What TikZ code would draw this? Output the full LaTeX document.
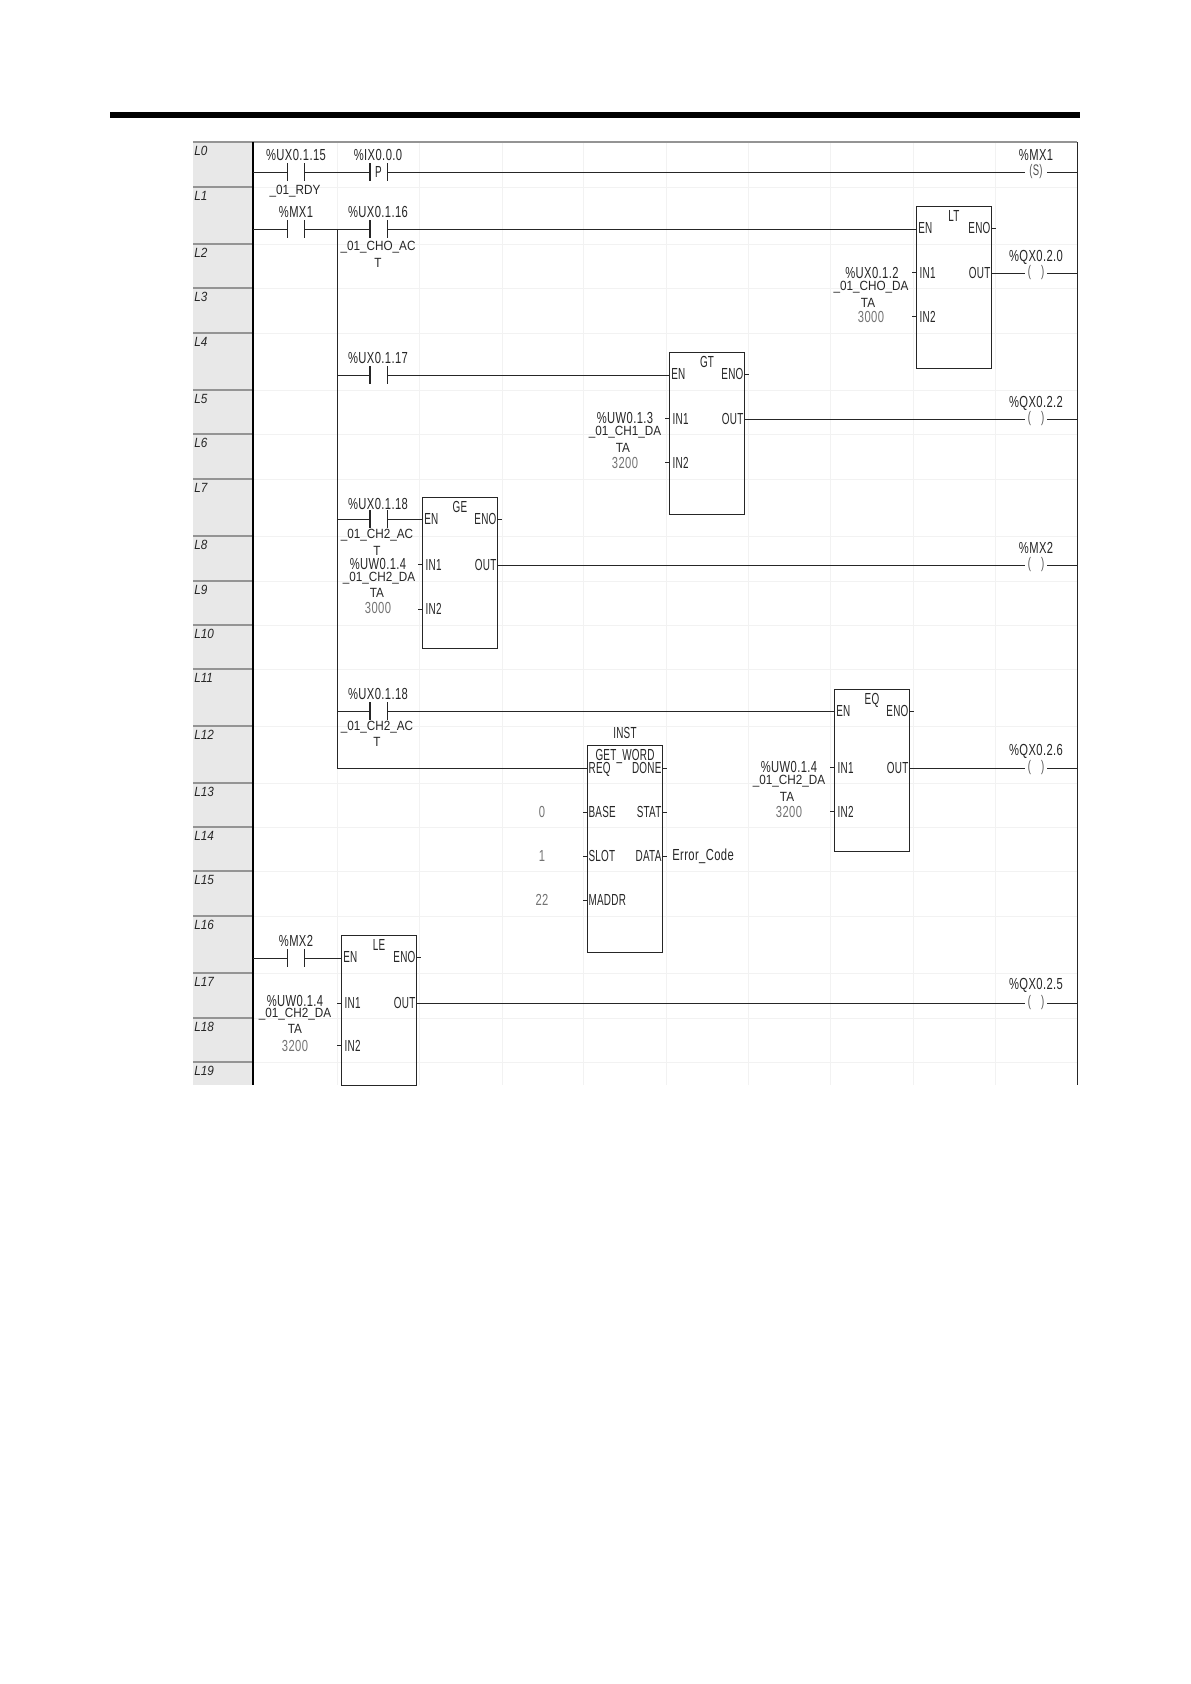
\documentclass[tikz,border=0pt]{standalone}
\usepackage{fontspec}
\newfontfamily\ladfont[FakeStretch=0.7,LetterSpace=2.5]{Liberation Sans}
\newfontfamily\pinfont[FakeStretch=0.62,LetterSpace=1.5]{Liberation Sans}
\newfontfamily\tagfont[FakeStretch=0.88]{Liberation Sans}
\usetikzlibrary{positioning,calc}
\definecolor{railgrey}{gray}{0.58}
\definecolor{colgrey}{gray}{0.91}
\definecolor{gridgrey}{gray}{0.95}
\definecolor{inkdark}{gray}{0.15}
\definecolor{constgrey}{gray}{0.45}
\tikzset{
  wire/.style={inkdark,line width=0.7pt},
  bar/.style={inkdark,line width=0.8pt},
  gridln/.style={gridgrey,line width=0.6pt},
  contact/.style={minimum width=12.4pt,minimum height=12.4pt,inner sep=0pt,
                  font=\pinfont\fontsize{12}{12}\selectfont,text=inkdark},
  coil/.style={minimum width=16.5pt,inner sep=0pt,text=inkdark!80,
               font=\pinfont\fontsize{11.5}{12}\selectfont},
  opd/.style={font=\ladfont\fontsize{12}{13}\selectfont,inner sep=0pt,text=inkdark},
  tag/.style={font=\tagfont\fontsize{10}{10}\selectfont,inner sep=0pt,text=inkdark},
  konst/.style={font=\ladfont\fontsize{12}{13}\selectfont,inner sep=0pt,text=constgrey},
  fblock/.style={draw=inkdark,line width=0.8pt,anchor=north west,minimum width=56.2pt,
                 inner sep=0pt,fill=none},
  pin/.style={font=\pinfont\fontsize{12}{13}\selectfont,inner sep=0pt,text=inkdark,
              text height=8.6pt,text depth=0pt},
  rowlab/.style={font=\tagfont\itshape\fontsize{10}{10}\selectfont,inner sep=0pt,
                 text=inkdark,anchor=west},
}
\begin{document}
\begin{tikzpicture}[x=0.75pt,y=-0.75pt]
\useasboundingbox (0,0) rectangle (1190,1684);

\coordinate (lrail) at (253,142);
\coordinate (rrail) at (1077,142);
\coordinate (tap) at (337,229);
\coordinate (tapend) at (337,768);

\fill[black] (110,112) rectangle (1080,118);
\fill[colgrey] (193,142) rectangle (253,1085);

\foreach \x in {337,419,502,583,666,748,830,913,995}
  \draw[gridln] (\x,142) -- (\x,1085);
\foreach \i/\y in {1/187,2/244,3/288,4/333,5/390,6/434,7/479,8/536,9/581,10/625,
                   11/669,12/726,13/783,14/827,15/871,16/916,17/973,18/1018,19/1062}{
  \draw[gridln] (253,\y) -- (1077,\y);
  \draw[railgrey,line width=0.8pt] (193,\y) -- (253,\y);
  \node[rowlab] (row\i) at (194,\y+9) {L\i};
}
\node[rowlab] (row0) at (194,151) {L0};

\draw[railgrey,line width=1.6pt] (193,142) -- (1077,142);
\draw[black,line width=1.9pt] (253,142) -- (253,1085);
\draw[inkdark,line width=0.7pt] (1077,142) -- (1077,1085);

\node[contact] (rdy) at (296,172) {};
\node[contact] (trig) at (378.5,172) {P};
\node[contact] (mxa) at (296,229) {};
\node[contact] (act0) at (378.5,229) {};
\node[contact] (act1) at (378.5,375) {};
\node[contact] (act2) at (378.5,519) {};
\node[contact] (act3) at (378.5,711) {};
\node[contact] (mxb) at (296,958) {};
\foreach \c in {rdy,trig,mxa,act0,act1,act2,act3,mxb}
  \draw[bar] (\c.north west) -- (\c.south west) (\c.north east) -- (\c.south east);

\node[coil] (cmx1) at (1036,172) {(S)};
\node[coil] (q20) at (1036,273) {(\hspace{7.5pt})};
\node[coil] (q22) at (1036,419) {(\hspace{7.5pt})};
\node[coil] (cmx2) at (1036,565) {(\hspace{7.5pt})};
\node[coil] (q26) at (1036,768) {(\hspace{7.5pt})};
\node[coil] (q25) at (1036,1003) {(\hspace{7.5pt})};
\foreach \c in {cmx1,q20,q22,cmx2,q26,q25}
  \draw[wire] (\c.east) -- (\c.east -| rrail);

\node[fblock,minimum height=121.5pt] (lt) at (916,206) {};
\node[fblock,minimum height=121.5pt] (gt) at (669,352) {};
\node[fblock,minimum height=113.2pt] (ge) at (422,497) {};
\node[fblock,minimum height=121.5pt] (eq) at (834,689) {};
\node[fblock,minimum height=112.5pt] (le) at (341,935) {};
\node[fblock,minimum height=155.2pt] (inst) at (587,745) {};

\foreach \b/\t/\ya/\yb in {lt/LT/50/83,gt/GT/50/83,ge/GE/50.5/84,eq/EQ/59/92,le/LE/51/83}{
  \node[pin] (\b-t) at ([yshift=-7pt]\b.north) {\t};
  \node[pin,anchor=west] (\b-en) at ([xshift=1.5pt,yshift=-16.5pt]\b.north west) {EN};
  \node[pin,anchor=east] (\b-eno) at ([xshift=-1pt,yshift=-16.5pt]\b.north east) {ENO};
  \node[pin,anchor=west] (\b-in1) at ([xshift=2.5pt,yshift=-\ya pt]\b.north west) {IN1};
  \node[pin,anchor=west] (\b-in2) at ([xshift=2.5pt,yshift=-\yb pt]\b.north west) {IN2};
  \node[pin,anchor=east] (\b-out) at ([xshift=-1pt,yshift=-\ya pt]\b.north east) {OUT};
  \draw[wire] (\b.east |- \b-eno) -- ++(4,0);
  \draw[wire] (\b.west |- \b-in1) -- ++(-4,0);
  \draw[wire] (\b.west |- \b-in2) -- ++(-4,0);
}

\node[pin] (inst-t) at ([yshift=9pt]inst.north) {INST};
\node[pin] (inst-f) at ([yshift=-7.5pt]inst.north) {GET\_WORD};
\node[pin,anchor=west] (inst-req) at ([xshift=1pt]inst.west |- tapend) {REQ};
\node[pin,anchor=east] (inst-done) at ([xshift=-1pt]inst.east |- tapend) {DONE};
\node[pin,anchor=west] (inst-base) at ([xshift=1pt]inst.west |- 0,812) {BASE};
\node[pin,anchor=east] (inst-stat) at ([xshift=-1pt]inst.east |- 0,812) {STAT};
\node[pin,anchor=west] (inst-slot) at ([xshift=1pt]inst.west |- 0,856) {SLOT};
\node[pin,anchor=east] (inst-data) at ([xshift=-1pt]inst.east |- 0,856) {DATA};
\node[pin,anchor=west] (inst-addr) at ([xshift=1pt]inst.west |- 0,900) {MADDR};
\foreach \p in {base,slot,addr}
  \draw[wire] (inst.west |- inst-\p) -- ++(-4,0);
\foreach \p in {done,stat,data}
  \draw[wire] (inst.east |- inst-\p) -- ++(4,0);

\draw[wire] (lrail |- rdy) -- (rdy.west);
\draw[wire] (rdy.east) -- (trig.west);
\draw[wire] (trig.east) -- (cmx1.west);
\draw[wire] (lrail |- mxa) -- (mxa.west);
\draw[wire] (mxa.east) -- (act0.west);
\draw[wire] (act0.east) -- (lt.west |- act0);
\draw[wire] (tap) -- (tapend) -- (inst.west |- tapend);
\draw[wire] (tap |- act1) -- (act1.west);
\draw[wire] (act1.east) -- (gt.west |- act1);
\draw[wire] (tap |- act2) -- (act2.west);
\draw[wire] (act2.east) -- (ge.west |- act2);
\draw[wire] (tap |- act3) -- (act3.west);
\draw[wire] (act3.east) -- (eq.west |- act3);
\draw[wire] (lrail |- mxb) -- (mxb.west);
\draw[wire] (mxb.east) -- (le.west |- mxb);
\draw[wire] (lt.east |- q20) -- (q20.west);
\draw[wire] (gt.east |- q22) -- (q22.west);
\draw[wire] (ge.east |- cmx2) -- (cmx2.west);
\draw[wire] (eq.east |- q26) -- (q26.west);
\draw[wire] (le.east |- q25) -- (q25.west);

\node[opd] (l-rdy) at (296,155) {\%UX0.1.15};
\node[opd] (l-trig) at (378,155) {\%IX0.0.0};
\node[tag] (t-rdy) at (295,191) {\_01\_RDY};
\node[opd] (l-mxa) at (296,212) {\%MX1};
\node[opd] (l-act0) at (378,212) {\%UX0.1.16};
\node[tag] (t-act0) at (378,247) {\_01\_CHO\_AC};
\node[tag] (t-act0b) at (378,263) {T};
\node[opd] (l-act1) at (378,358) {\%UX0.1.17};
\node[opd] (l-act2) at (378,504) {\%UX0.1.18};
\node[tag] (t-act2) at (377,535) {\_01\_CH2\_AC};
\node[tag] (t-act2b) at (377,551) {T};
\node[opd] (l-act3) at (378,694) {\%UX0.1.18};
\node[tag] (t-act3) at (377,727) {\_01\_CH2\_AC};
\node[tag] (t-act3b) at (377,742) {T};
\node[opd] (l-mxb) at (296,941) {\%MX2};

\node[opd] (l-lt) at (872,273) {\%UX0.1.2};
\node[tag] (t-lt) at (871,287) {\_01\_CHO\_DA};
\node[tag] (t-ltb) at (868,303) {TA};
\node[konst] (k-lt) at (871,317) {3000};
\node[opd] (l-gt) at (625,418) {\%UW0.1.3};
\node[tag] (t-gt) at (625,432) {\_01\_CH1\_DA};
\node[tag] (t-gtb) at (623,448) {TA};
\node[konst] (k-gt) at (625,463) {3200};
\node[opd] (l-ge) at (378,564) {\%UW0.1.4};
\node[tag] (t-ge) at (379,578) {\_01\_CH2\_DA};
\node[tag] (t-geb) at (377,593) {TA};
\node[konst] (k-ge) at (378,608) {3000};
\node[opd] (l-eq) at (789,767) {\%UW0.1.4};
\node[tag] (t-eq) at (789,781) {\_01\_CH2\_DA};
\node[tag] (t-eqb) at (787,797) {TA};
\node[konst] (k-eq) at (789,812) {3200};
\node[opd] (l-le) at (295,1001) {\%UW0.1.4};
\node[tag] (t-le) at (295,1014) {\_01\_CH2\_DA};
\node[tag] (t-leb) at (295,1029) {TA};
\node[konst] (k-le) at (295,1046) {3200};

\node[konst] (k-base) at (542,812) {0};
\node[konst] (k-slot) at (542,856) {1};
\node[konst] (k-addr) at (542,900) {22};
\node[opd,anchor=west] (l-err) at (672,856) {Error\_Code};

\node[opd] (l-cmx1) at (1036,155) {\%MX1};
\node[opd] (l-q20) at (1036,257) {\%QX0.2.0};
\node[opd] (l-q22) at (1036,403) {\%QX0.2.2};
\node[opd] (l-cmx2) at (1036,548) {\%MX2};
\node[opd] (l-q26) at (1036,751) {\%QX0.2.6};
\node[opd] (l-q25) at (1036,985) {\%QX0.2.5};
\end{tikzpicture}
\end{document}
